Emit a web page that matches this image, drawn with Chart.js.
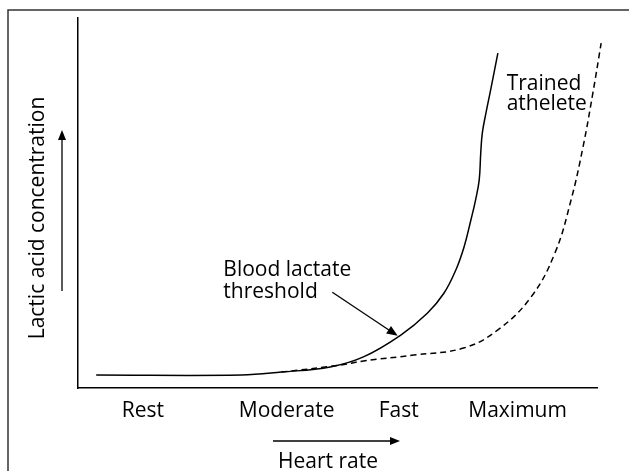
<!DOCTYPE html>
<html>
<head>
<meta charset="utf-8">
<script src="https://cdn.jsdelivr.net/npm/chart.js@4/dist/chart.umd.min.js"></script>
<style>
  html, body { margin: 0; padding: 0; background: #fff; }
  #wrap { width: 629px; height: 471px; position: relative; }
</style>
</head>
<body>
<div id="wrap"><canvas id="lactate"></canvas></div>
<script>
// heart-rate categories and where they sit on the (unitless) x scale
var tickLabels = ['Rest', 'Moderate', 'Fast', 'Maximum'];
var tickPositions = [12.5, 40.2, 61.8, 84.7];

// untrained curve (solid)
var untrainedX = [3.5, 31.5, 39.2, 48.6, 55.0, 62.2, 67.3, 70.5, 72.8, 74.4, 75.7, 76.6, 77.3, 77.6, 77.9, 78.6, 79.5, 80.9];
var untrainedY = [3.5, 3.5, 4.3, 5.7, 8.4, 14.3, 20.2, 25.6, 31.9, 38.2, 45.4, 50.8, 56.2, 63.5, 68.9, 74.3, 80.5, 90.5];

// trained athelete (dashed)
var trainedX = [39.2, 50.6, 55.0, 64.7, 74.3, 80.9, 87.3, 91.9, 95.0, 97.3, 99.2, 100.8];
var trainedY = [4.3, 6.2, 7.3, 8.9, 10.8, 15.7, 24.6, 36.5, 50.8, 65.1, 79.7, 93.2];

var FONT = '"Open Sans", "Noto Sans", sans-serif';
var INK = '#000';

function pts(xs, ys) {
    return xs.map(function (v, i) { return { x: v, y: ys[i] }; });
}

function arrow(ctx, x1, y1, x2, y2, head) {
    var ang = Math.atan2(y2 - y1, x2 - x1);
    ctx.beginPath();
    ctx.moveTo(x1, y1);
    ctx.lineTo(x2 - Math.cos(ang) * head * 0.8, y2 - Math.sin(ang) * head * 0.8);
    ctx.stroke();
    ctx.beginPath();
    ctx.moveTo(x2, y2);
    ctx.lineTo(x2 - head * Math.cos(ang) + head * 0.4 * Math.sin(ang), y2 - head * Math.sin(ang) - head * 0.4 * Math.cos(ang));
    ctx.lineTo(x2 - head * Math.cos(ang) - head * 0.4 * Math.sin(ang), y2 - head * Math.sin(ang) + head * 0.4 * Math.cos(ang));
    ctx.closePath();
    ctx.fill();
}

// frame, axis titles with arrows, and the two text callouts
var decor = {
    id: 'decor',
    afterDraw: function (chart) {
        var ctx = chart.ctx, x = chart.scales.x, y = chart.scales.y;
        ctx.save();
        ctx.strokeStyle = '#333';
        ctx.fillStyle = INK;
        ctx.lineWidth = 1.5;

        ctx.beginPath();
        ctx.moveTo(8, chart.height);
        ctx.lineTo(8, 10);
        ctx.lineTo(chart.width, 10);
        ctx.stroke();

        ctx.strokeStyle = INK;
        ctx.lineWidth = 1.3;
        ctx.font = '21px ' + FONT;
        ctx.textAlign = 'center';
        ctx.textBaseline = 'middle';

        // x title
        arrow(ctx, 273, 441, 400, 441, 10);
        ctx.fillText('Heart rate', 328, 462);

        // y title
        arrow(ctx, 62, 291, 62, 130, 10);
        ctx.save();
        ctx.translate(38, 218);
        ctx.rotate(-Math.PI / 2);
        ctx.fillText('Lactic acid concentration', 0, 0);
        ctx.restore();

        // callouts
        ctx.textAlign = 'left';
        ctx.textBaseline = 'alphabetic';
        ctx.fillText('Blood lactate', x.getPixelForValue(28), y.getPixelForValue(30.3));
        ctx.fillText('threshold', x.getPixelForValue(28), y.getPixelForValue(24.3));
        arrow(ctx, x.getPixelForValue(49.0), y.getPixelForValue(25.9),
            x.getPixelForValue(61.6), y.getPixelForValue(14.1), 11);

        ctx.fillText('Trained', x.getPixelForValue(82.6), y.getPixelForValue(80.5));
        ctx.fillText('athelete', x.getPixelForValue(82.6), y.getPixelForValue(75.1));
        ctx.restore();
    }
};

new Chart(document.getElementById('lactate'), {
    type: 'line',
    data: {
        datasets: [{
            label: 'Untrained',
            data: pts(untrainedX, untrainedY),
            borderColor: INK,
            borderWidth: 1.5,
            pointRadius: 0,
            tension: 0.4,
            fill: false
        }, {
            label: 'Trained athelete',
            data: pts(trainedX, trainedY),
            borderColor: INK,
            borderWidth: 1.5,
            borderDash: [6, 4],
            pointRadius: 0,
            tension: 0.4,
            fill: false
        }]
    },
    options: {
        responsive: true,
        maintainAspectRatio: false,
        animation: false,
        clip: false,
        layout: { padding: { left: 78, top: 18, right: 32, bottom: 0 } },
        plugins: {
            legend: { display: false },
            tooltip: { enabled: false }
        },
        scales: {
            x: {
                type: 'linear',
                min: 0,
                max: 100,
                grid: { display: false, drawTicks: false },
                border: { display: true, color: INK, width: 1.5 },
                afterBuildTicks: function (s) {
                    s.ticks = tickPositions.map(function (v) { return { value: v }; });
                },
                afterFit: function (s) { s.height = 83; },
                ticks: {
                    autoSkip: false,
                    maxRotation: 0,
                    padding: 10,
                    color: INK,
                    font: { family: FONT, size: 21 },
                    callback: function (v) {
                        var i = tickPositions.indexOf(v);
                        return i >= 0 ? tickLabels[i] : '';
                    }
                }
            },
            y: {
                type: 'linear',
                min: 0,
                max: 100,
                grid: { display: false, drawTicks: false },
                border: { display: true, color: INK, width: 1.5 },
                ticks: { display: false },
                afterFit: function (s) { s.width = 0; }
            }
        }
    },
    plugins: [decor]
});
</script>
</body>
</html>
